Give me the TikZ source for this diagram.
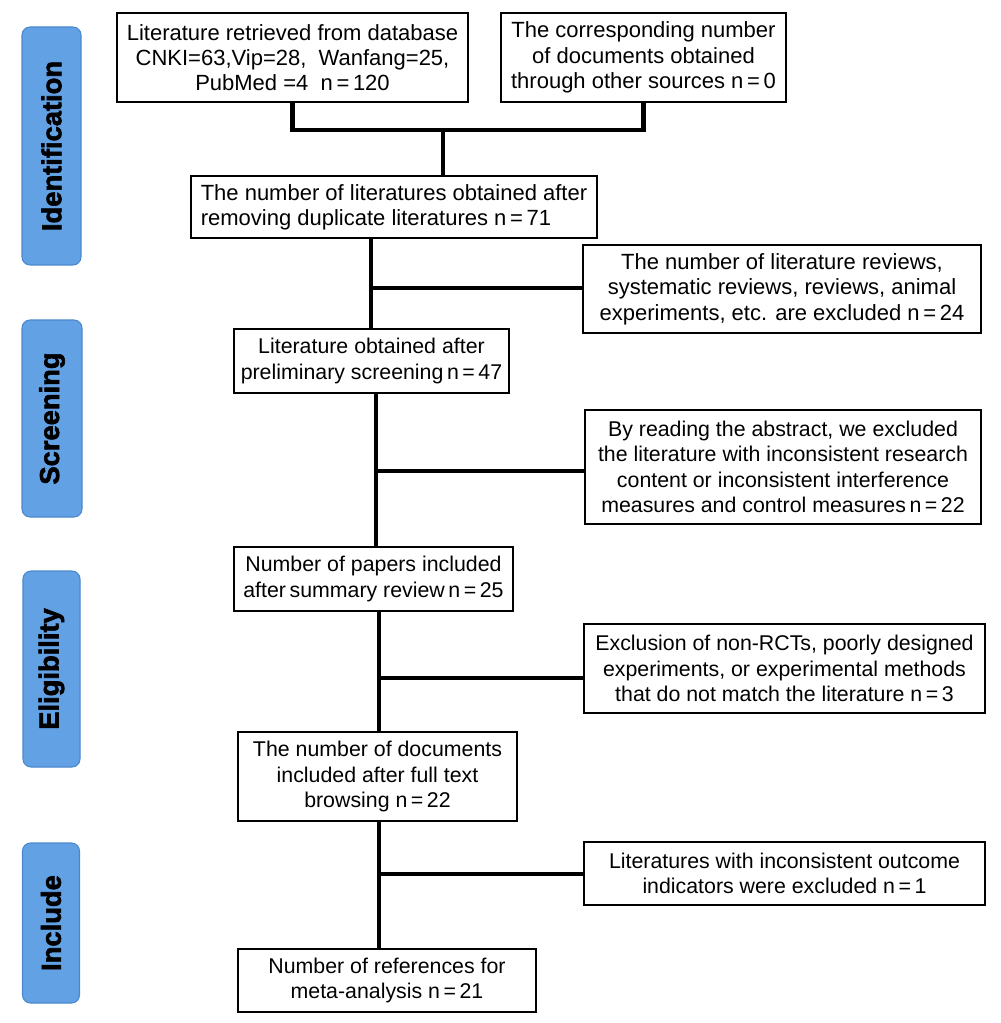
\documentclass[tikz,border=0pt]{standalone}
\usepackage{fontspec}
\setmainfont{Liberation Sans}
\newfontfamily\labfont[BoldFeatures={FakeBold=2.2}]{Liberation Sans}
\definecolor{labfill}{RGB}{98,161,228}
\definecolor{labdraw}{RGB}{75,135,205}
\begin{document}
\begin{tikzpicture}[x=0.75pt,y=-0.75pt,
  box/.style 2 args={draw=black, line width=2pt, align=center, inner sep=0pt,
    minimum width=#1*0.75pt, minimum height=#2*0.75pt,
    font=\fontsize{16.5}{19}\selectfont},
  sbox/.style 2 args={box={#1}{#2}, font=\fontsize{16}{19}\selectfont},
  stage/.style 2 args={rotate=90, fill=labfill, draw=labdraw, line width=0.8pt,
    rounded corners=6pt, minimum width=#1*0.75pt, minimum height=#2*0.75pt,
    inner sep=0pt, font=\labfont\fontsize{20.5}{24}\selectfont\bfseries, text=black},
  conn/.style={line width=3.2pt, draw=black, line cap=butt}
]
\useasboundingbox (0,0) rectangle (1000,1023);

% stage labels
\node[stage={238}{59}] (sId) at (51.5,146) {Identification};
\node[stage={197}{60}] (sSc) at (52,418.5) {Screening};
\node[stage={196}{57}] (sEl) at (51.5,669) {Eligibility};
\node[stage={160}{57}] (sIn) at (51,923) {Include};

% boxes
\node[box={351}{89}] (A) at (292.5,57.5) {Literature retrieved from database\\CNKI=63,Vip=28,\ \ Wanfang=25,\\PubMed =4~~n\,=\,120};
\node[box={285}{89}] (B) at (643.5,57.5) {The corresponding number\\of documents obtained\\through other sources n\,=\,0};
\node[box={406}{62}, align=left] (C) at (394,207) {The number of literatures obtained after\\removing duplicate literatures n\,=\,71};
\node[box={398}{88}] (E) at (782,289) {The number of literature reviews,\\systematic reviews, reviews, animal\\experiments, etc. are excluded n\,=\,24};
\node[sbox={275}{64}] (D) at (371.5,361) {Literature obtained after\\preliminary screening\,n\,=\,47};
\node[sbox={396}{114}] (F) at (783,467) {By reading the abstract, we excluded\\the literature with inconsistent research\\content or inconsistent interference\\measures and control measures\,n\,=\,22};
\node[sbox={279}{64}] (G) at (373.5,579) {Number of papers included\\after\,summary review\,n\,=\,25};
\node[sbox={401}{89}] (H) at (784.5,668.5) {Exclusion of non-RCTs, poorly designed\\experiments, or experimental methods\\that do not match the literature n\,=\,3};
\node[sbox={279}{89}] (I) at (377.5,776.5) {The number of documents\\included after full text\\browsing n\,=\,22};
\node[sbox={401}{63}] (J) at (784.5,873.5) {Literatures with inconsistent outcome\\indicators were excluded n\,=\,1};
\node[sbox={298}{63}] (K) at (387,980.5) {Number of references for\\meta-analysis n\,=\,21};

% connectors
\coordinate (j1) at (443,130);
\draw[conn, line join=miter] (A.south) |- (j1) -| (B.south);
\draw[conn] (j1) -- (j1 |- C.north);

\coordinate (t1) at (371,0);
\coordinate (b1) at (371,288);
\draw[conn] (t1 |- C.south) -- (t1 |- D.north);
\draw[conn] (b1) -- (b1 -| E.west);

\coordinate (t2) at (376,0);
\coordinate (b2) at (376,471);
\draw[conn] (t2 |- D.south) -- (t2 |- G.north);
\draw[conn] (b2) -- (b2 -| F.west);

\coordinate (t3) at (379,0);
\coordinate (b3) at (379,678);
\draw[conn] (t3 |- G.south) -- (t3 |- I.north);
\draw[conn] (b3) -- (b3 -| H.west);

\coordinate (t4) at (379,0);
\coordinate (b4) at (379,874);
\draw[conn] (t4 |- I.south) -- (t4 |- K.north);
\draw[conn] (b4) -- (b4 -| J.west);
\end{tikzpicture}
\end{document}
